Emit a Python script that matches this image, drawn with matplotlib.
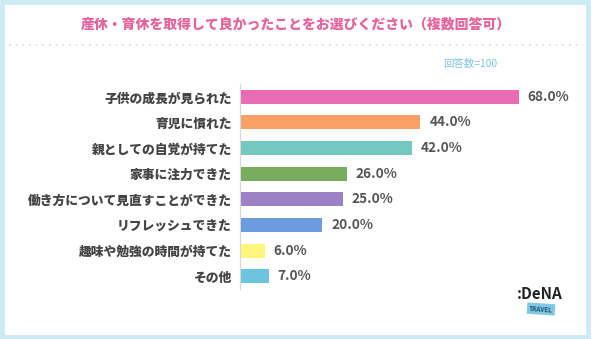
import matplotlib.pyplot as plt
from matplotlib.patches import Rectangle
from matplotlib.lines import Line2D

plt.rcParams['font.family'] = ['Noto Sans CJK JP', 'DejaVu Sans']

categories = ['子供の成長が見られた', '育児に慣れた', '親としての自覚が持てた', '家事に注力できた',
              '働き方について見直すことができた', 'リフレッシュできた', '趣味や勉強の時間が持てた', 'その他']
values = [68.0, 44.0, 42.0, 26.0, 25.0, 20.0, 6.0, 7.0]
colors = ['#EA6DB4', '#F9A066', '#74C8C0', '#78AD5D', '#9C80C5', '#6C9BE0', '#FDF67A', '#6CC4DF']

fig = plt.figure(figsize=(5.92, 3.39), dpi=100)
fig.patch.set_facecolor('white')

# border
fig.patches.append(Rectangle((0.004, 0.007), 0.99, 0.986, transform=fig.transFigure,
                             fill=False, edgecolor='#CDEBF5', linewidth=3.5))

fig.text(0.5, 1 - 25 / 339, '産休・育休を取得して良かったことをお選びください（複数回答可）',
         ha='center', va='center', fontsize=10, fontweight='heavy', color='#E5649C')
fig.add_artist(Line2D([0.015, 0.985], [1 - 45 / 339] * 2, transform=fig.transFigure,
                      color='#D5DDE3', linestyle=(0, (1, 3)), linewidth=1.2))
fig.text(470 / 592, 1 - 64 / 339, '回答数=100', ha='center', va='center',
         fontsize=7.5, color='#7FC3DA')

ax = fig.add_axes([240 / 592, 1 - 289 / 339, 328 / 592, 205 / 339])
y = range(len(categories))
ax.barh(y, values, height=0.55, color=colors)
ax.set_xlim(0, 80)
ax.set_ylim(len(categories) - 0.5, -0.5)
for i, v in enumerate(values):
    ax.text(v + 2.2, i, f'{v:.1f}%', va='center', ha='left', fontsize=9.8,
            fontweight='bold', color='#555555')
ax.set_yticks(list(y))
ax.set_yticklabels(categories, fontsize=9.2, fontweight='heavy', color='#444444')
ax.tick_params(axis='y', length=0, pad=6)
ax.set_xticks([])
for s in ['top', 'right', 'bottom']:
    ax.spines[s].set_visible(False)
ax.spines['left'].set_color('#D8D8D8')
ax.spines['left'].set_linewidth(0.8)

# logo
fig.text(540 / 592, 1 - 294 / 339, ':DeNA', ha='center', va='center', fontsize=11,
         fontweight='bold', color='#222222', fontstyle='italic')
fig.text(541 / 592, 1 - 309 / 339, 'TRAVEL', ha='center', va='center', fontsize=4.5,
         fontweight='bold', color='#1F4E79', rotation=-4,
         bbox=dict(boxstyle='square,pad=0.35', facecolor='#7FC9E3', edgecolor='none'))

fig.savefig('out.png', dpi=100)
